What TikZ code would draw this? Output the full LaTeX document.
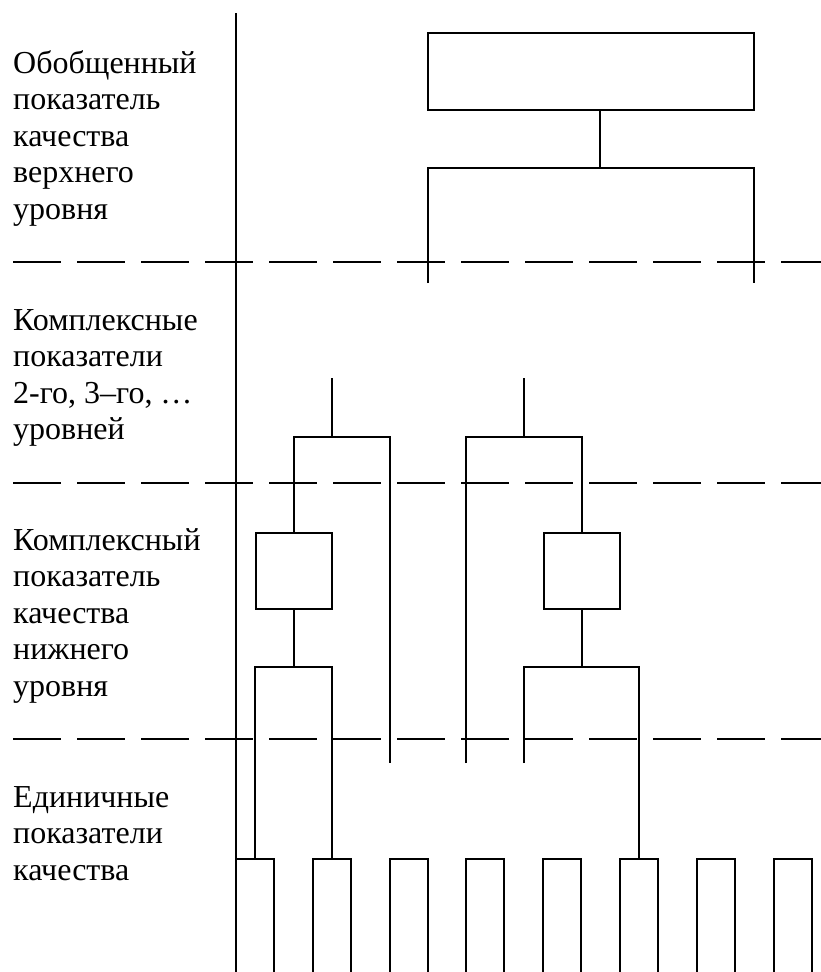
\documentclass[tikz,border=0pt]{standalone}
\usepackage{fontspec}
\setmainfont{Liberation Serif}
\begin{document}
\begin{tikzpicture}[x=1pt,y=-1pt,
  ln/.style={line width=1.6pt},
  dsh/.style={line width=1.6pt,dash pattern=on 48pt off 16pt},
  lbl/.style={anchor=base west,inner sep=0pt,font=\fontsize{32}{36}\selectfont},
  boxn/.style={draw,line width=1.6pt,rectangle,inner sep=0pt},
  leaf/.style={rectangle,inner sep=0pt,minimum width=38pt,minimum height=113pt}]
\useasboundingbox (0,0) rectangle (821,972);
% labels
\node[lbl] (t11) at (13,73) {Обобщенный};
\node[lbl] (t12) at (13,109.5) {показатель};
\node[lbl] (t13) at (13,146) {качества};
\node[lbl] (t14) at (13,182.5) {верхнего};
\node[lbl] (t15) at (13,219) {уровня};
\node[lbl] (t21) at (13,330) {Комплексные};
\node[lbl] (t22) at (13,366.5) {показатели};
\node[lbl] (t23) at (13,403) {2-го, 3–го, …};
\node[lbl] (t24) at (13,439.5) {уровней};
\node[lbl] (t31) at (13,550) {Комплексный};
\node[lbl] (t32) at (13,586.5) {показатель};
\node[lbl] (t33) at (13,623) {качества};
\node[lbl] (t34) at (13,659.5) {нижнего};
\node[lbl] (t35) at (13,696) {уровня};
\node[lbl] (t41) at (13,807) {Единичные};
\node[lbl] (t42) at (13,843.5) {показатели};
\node[lbl] (t43) at (13,880) {качества};
% axis and level separators
\coordinate (ax1) at (236,13);
\coordinate (ax2) at (236,972);
\draw[ln] (ax1) -- (ax2);
\coordinate (d1a) at (13,262); \coordinate (d1b) at (821,262);
\coordinate (d2a) at (13,483); \coordinate (d2b) at (821,483);
\coordinate (d3a) at (13,739); \coordinate (d3b) at (821,739);
\draw[dsh] (d1a) -- (d1b);
\draw[dsh] (d2a) -- (d2b);
\draw[dsh] (d3a) -- (d3b);
% top box
\node[boxn,minimum width=326pt,minimum height=77pt] (top) at (591,71.5) {};
\coordinate (j1) at (600,168);
\draw[ln] (j1 |- top.south) -- (j1);
\coordinate (tl) at (428,283); \coordinate (tr) at (754,283);
\draw[ln] (tl) -- (tl |- j1) -- (tr |- j1) -- (tr);
% lower-level boxes
\node[boxn,minimum width=76pt,minimum height=76pt] (bl) at (294,571) {};
\node[boxn,minimum width=76pt,minimum height=76pt] (br) at (582,571) {};
% leaves
\foreach \i/\x in {1/236,2/313,3/390,4/466,5/543,6/620,7/697,8/774}{
  \node[leaf] (u\i) at (\x+19,915.5) {};
  \draw[ln] (u\i.south west) -- (u\i.north west) -- (u\i.north east) -- (u\i.south east);
}
% middle brackets
\coordinate (sa) at (332,378); \coordinate (ha) at (332,437);
\draw[ln] (sa) -- (ha);
\coordinate (ea) at (390,763);
\draw[ln] (bl.north) -- (bl.north |- ha) -- (ea |- ha) -- (ea);
\coordinate (sb) at (524,378); \coordinate (hb) at (524,437);
\draw[ln] (sb) -- (hb);
\coordinate (eb) at (466,763);
\draw[ln] (eb) -- (eb |- hb) -- (br.north |- hb) -- (br.north);
% lower brackets
\coordinate (hl) at (294,667);
\draw[ln] (bl.south) -- (bl.south |- hl);
\coordinate (l1) at (255,859); \coordinate (l2) at (332,859);
\draw[ln] (l1) -- (l1 |- hl) -- (l2 |- hl) -- (l2);
\coordinate (hr) at (582,667);
\draw[ln] (br.south) -- (br.south |- hr);
\coordinate (ec) at (524,763); \coordinate (r2) at (639,859);
\draw[ln] (ec) -- (ec |- hr) -- (r2 |- hr) -- (r2);
\end{tikzpicture}
\end{document}
